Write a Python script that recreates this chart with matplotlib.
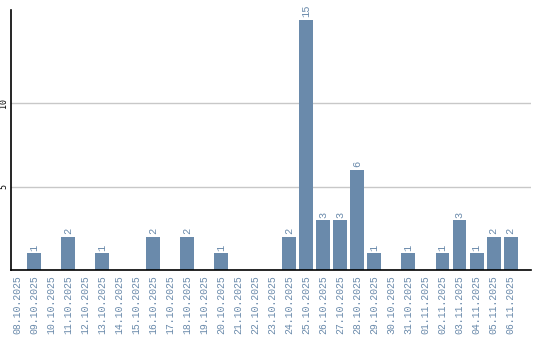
import matplotlib
matplotlib.use("Agg")
import matplotlib.pyplot as plt

dates = ["08.10.2025", "09.10.2025", "10.10.2025", "11.10.2025", "12.10.2025",
         "13.10.2025", "14.10.2025", "15.10.2025", "16.10.2025", "17.10.2025",
         "18.10.2025", "19.10.2025", "20.10.2025", "21.10.2025", "22.10.2025",
         "23.10.2025", "24.10.2025", "25.10.2025", "26.10.2025", "27.10.2025",
         "28.10.2025", "29.10.2025", "30.10.2025", "31.10.2025", "01.11.2025",
         "02.11.2025", "03.11.2025", "04.11.2025", "05.11.2025", "06.11.2025"]
counts = [0, 1, 0, 2, 0, 1, 0, 0, 2, 0,
          2, 0, 1, 0, 0, 0, 2, 15, 3, 3,
          6, 1, 0, 1, 0, 1, 3, 1, 2, 2]
yticks = [5, 10]

bar_color = "#6a8aab"
label_color = "#6a8aab"

fig = plt.figure(figsize=(5.4, 3.4), dpi=100)
ax = fig.add_axes([11 / 540, 1 - 270 / 340, 520 / 540, 260 / 340])

x = list(range(len(dates)))
ax.bar(x, counts, width=0.82, color=bar_color, zorder=2)

for xi, v in zip(x, counts):
    if v > 0:
        ax.text(xi, v + 0.15, str(v), rotation=90, ha="center", va="bottom",
                color=label_color, fontsize=7.5, family="Liberation Mono")

ax.set_xlim(-0.35, 30.2)
ax.set_ylim(0, 15.6)
ax.set_xticks(x)
ax.set_xticklabels(dates, rotation=90, color=label_color, fontsize=7.1,
                   family="Liberation Mono")
ax.set_yticks(yticks)
ax.set_yticklabels([str(t) for t in yticks], rotation=90, fontsize=6,
                   family="DejaVu Sans Mono", va="center")
ax.tick_params(axis="both", length=0)
ax.tick_params(axis="x", pad=4)
ax.tick_params(axis="y", pad=2)
ax.grid(axis="y", color="#c8c8c8", linewidth=1, zorder=0)
ax.spines["top"].set_visible(False)
ax.spines["right"].set_visible(False)
ax.spines["left"].set_linewidth(1.2)
ax.spines["bottom"].set_linewidth(1.2)

fig.savefig("out.png", dpi=100)
